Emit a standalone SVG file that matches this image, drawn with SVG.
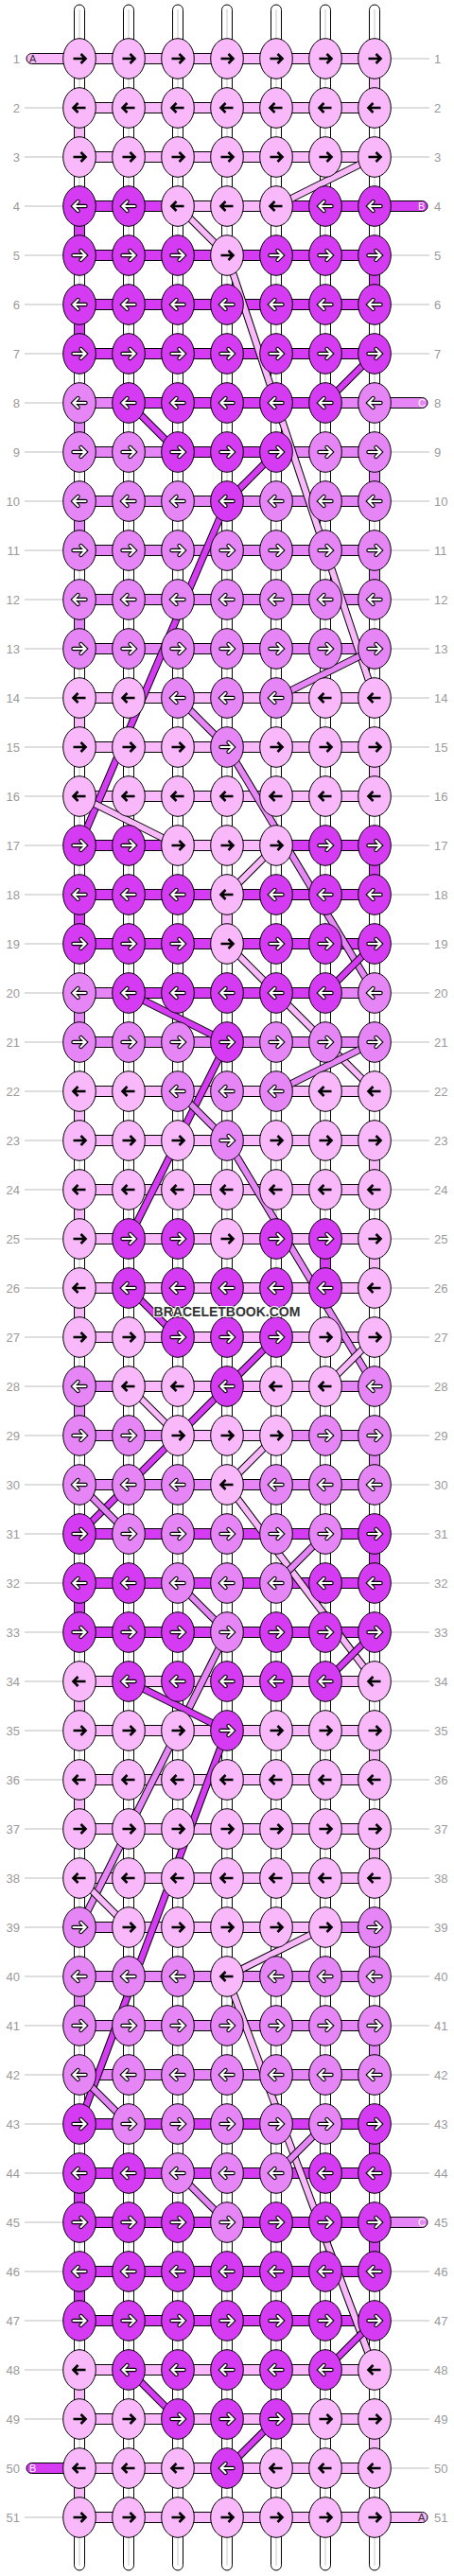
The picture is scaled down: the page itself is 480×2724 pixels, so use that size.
<svg xmlns="http://www.w3.org/2000/svg" xmlns:xlink="http://www.w3.org/1999/xlink" width="480" height="2724" viewBox="0 0 480 2724">
<style>
.L{fill:#F8B8FA}.M{fill:#E686F6}.D{fill:#D43BF2}
.o{stroke:#000;stroke-width:1}
.nf{stroke:none}
.lb{font-family:"Liberation Sans",Arial,sans-serif;font-size:13px;fill:#9A9A9A}
.tl{font-family:"Liberation Sans",Arial,sans-serif;font-size:11px}
.gl{stroke:#BDBDBD;stroke-width:1;fill:none}
.dk{stroke:#000;stroke-width:8;fill:none}
.dL{stroke:#F8B8FA;stroke-width:6;fill:none}
.dM{stroke:#E686F6;stroke-width:6;fill:none}
.dD{stroke:#D43BF2;stroke-width:6;fill:none}
.wm{font-family:"Liberation Sans",Arial,sans-serif;font-size:14px;font-weight:bold;fill:#333;stroke:#fff;stroke-width:2;paint-order:stroke}
</style>
<defs>
<path id="ar" d="M-6.5,0H6M1.5,-5L6.5,0L1.5,5" fill="none"/>
<path id="al" d="M6.5,0H-6M-1.5,-5L-6.5,0L-1.5,5" fill="none"/>
<g id="LR"><ellipse rx="17.3" ry="21.3" fill="#F8B8FA" stroke="#000"/><use href="#ar" stroke="#000" stroke-width="2.6"/></g>
<g id="LL"><ellipse rx="17.3" ry="21.3" fill="#F8B8FA" stroke="#000"/><use href="#al" stroke="#000" stroke-width="2.6"/></g>
<g id="MR"><ellipse rx="17.3" ry="21.3" fill="#E686F6" stroke="#000"/><use href="#ar" stroke="#000" stroke-width="4.4" stroke-linecap="round"/><use href="#ar" stroke="#fff" stroke-width="2.2" stroke-linecap="round"/></g>
<g id="ML"><ellipse rx="17.3" ry="21.3" fill="#E686F6" stroke="#000"/><use href="#al" stroke="#000" stroke-width="4.4" stroke-linecap="round"/><use href="#al" stroke="#fff" stroke-width="2.2" stroke-linecap="round"/></g>
<g id="DR"><ellipse rx="17.3" ry="21.3" fill="#D43BF2" stroke="#000"/><use href="#ar" stroke="#000" stroke-width="4.4" stroke-linecap="round"/><use href="#ar" stroke="#fff" stroke-width="2.2" stroke-linecap="round"/></g>
<g id="DL"><ellipse rx="17.3" ry="21.3" fill="#D43BF2" stroke="#000"/><use href="#al" stroke="#000" stroke-width="4.4" stroke-linecap="round"/><use href="#al" stroke="#fff" stroke-width="2.2" stroke-linecap="round"/></g>
</defs>
<rect width="480" height="2724" fill="#fff"/>
<g id="labels">
<path class="gl" d="M26,114H67M26,166H67M26,218H67M26,270H67M26,322H67M26,374H67M26,426H67M26,478H67M26,530H67M26,582H67M26,634H67M26,686H67M26,738H67M26,790H67M26,842H67M26,894H67M26,946H67M26,998H67M26,1050H67M26,1102H67M26,1154H67M26,1206H67M26,1258H67M26,1310H67M26,1362H67M26,1414H67M26,1466H67M26,1518H67M26,1570H67M26,1622H67M26,1674H67M26,1726H67M26,1778H67M26,1830H67M26,1882H67M26,1934H67M26,1986H67M26,2038H67M26,2090H67M26,2142H67M26,2194H67M26,2246H67M26,2298H67M26,2350H67M26,2402H67M26,2454H67M26,2506H67M26,2558H67M26,2662H67"/>
<path class="gl" d="M413,62H454M413,114H454M413,166H454M413,270H454M413,322H454M413,374H454M413,478H454M413,530H454M413,582H454M413,634H454M413,686H454M413,738H454M413,790H454M413,842H454M413,894H454M413,946H454M413,998H454M413,1050H454M413,1102H454M413,1154H454M413,1206H454M413,1258H454M413,1310H454M413,1362H454M413,1414H454M413,1466H454M413,1518H454M413,1570H454M413,1622H454M413,1674H454M413,1726H454M413,1778H454M413,1830H454M413,1882H454M413,1934H454M413,1986H454M413,2038H454M413,2090H454M413,2142H454M413,2194H454M413,2246H454M413,2298H454M413,2402H454M413,2454H454M413,2506H454M413,2558H454M413,2610H454"/>
<g class="lb" text-anchor="end">
<text x="21" y="66.5">1</text><text x="21" y="118.5">2</text><text x="21" y="170.5">3</text><text x="21" y="222.5">4</text><text x="21" y="274.5">5</text><text x="21" y="326.5">6</text><text x="21" y="378.5">7</text><text x="21" y="430.5">8</text><text x="21" y="482.5">9</text><text x="21" y="534.5">10</text>
<text x="21" y="586.5">11</text><text x="21" y="638.5">12</text><text x="21" y="690.5">13</text><text x="21" y="742.5">14</text><text x="21" y="794.5">15</text><text x="21" y="846.5">16</text><text x="21" y="898.5">17</text><text x="21" y="950.5">18</text><text x="21" y="1002.5">19</text><text x="21" y="1054.5">20</text>
<text x="21" y="1106.5">21</text><text x="21" y="1158.5">22</text><text x="21" y="1210.5">23</text><text x="21" y="1262.5">24</text><text x="21" y="1314.5">25</text><text x="21" y="1366.5">26</text><text x="21" y="1418.5">27</text><text x="21" y="1470.5">28</text><text x="21" y="1522.5">29</text><text x="21" y="1574.5">30</text>
<text x="21" y="1626.5">31</text><text x="21" y="1678.5">32</text><text x="21" y="1730.5">33</text><text x="21" y="1782.5">34</text><text x="21" y="1834.5">35</text><text x="21" y="1886.5">36</text><text x="21" y="1938.5">37</text><text x="21" y="1990.5">38</text><text x="21" y="2042.5">39</text><text x="21" y="2094.5">40</text>
<text x="21" y="2146.5">41</text><text x="21" y="2198.5">42</text><text x="21" y="2250.5">43</text><text x="21" y="2302.5">44</text><text x="21" y="2354.5">45</text><text x="21" y="2406.5">46</text><text x="21" y="2458.5">47</text><text x="21" y="2510.5">48</text><text x="21" y="2562.5">49</text><text x="21" y="2614.5">50</text>
<text x="21" y="2666.5">51</text>
</g>
<g class="lb">
<text x="459" y="66.5">1</text><text x="459" y="118.5">2</text><text x="459" y="170.5">3</text><text x="459" y="222.5">4</text><text x="459" y="274.5">5</text><text x="459" y="326.5">6</text><text x="459" y="378.5">7</text><text x="459" y="430.5">8</text><text x="459" y="482.5">9</text><text x="459" y="534.5">10</text>
<text x="459" y="586.5">11</text><text x="459" y="638.5">12</text><text x="459" y="690.5">13</text><text x="459" y="742.5">14</text><text x="459" y="794.5">15</text><text x="459" y="846.5">16</text><text x="459" y="898.5">17</text><text x="459" y="950.5">18</text><text x="459" y="1002.5">19</text><text x="459" y="1054.5">20</text>
<text x="459" y="1106.5">21</text><text x="459" y="1158.5">22</text><text x="459" y="1210.5">23</text><text x="459" y="1262.5">24</text><text x="459" y="1314.5">25</text><text x="459" y="1366.5">26</text><text x="459" y="1418.5">27</text><text x="459" y="1470.5">28</text><text x="459" y="1522.5">29</text><text x="459" y="1574.5">30</text>
<text x="459" y="1626.5">31</text><text x="459" y="1678.5">32</text><text x="459" y="1730.5">33</text><text x="459" y="1782.5">34</text><text x="459" y="1834.5">35</text><text x="459" y="1886.5">36</text><text x="459" y="1938.5">37</text><text x="459" y="1990.5">38</text><text x="459" y="2042.5">39</text><text x="459" y="2094.5">40</text>
<text x="459" y="2146.5">41</text><text x="459" y="2198.5">42</text><text x="459" y="2250.5">43</text><text x="459" y="2302.5">44</text><text x="459" y="2354.5">45</text><text x="459" y="2406.5">46</text><text x="459" y="2458.5">47</text><text x="459" y="2510.5">48</text><text x="459" y="2562.5">49</text><text x="459" y="2614.5">50</text>
<text x="459" y="2666.5">51</text>
</g>
</g>
<g id="strands" fill="#fff" stroke="#000">
<rect x="78.5" y="5" width="11" height="2713" rx="5.5"/><rect x="130.5" y="5" width="11" height="2713" rx="5.5"/><rect x="182.5" y="5" width="11" height="2713" rx="5.5"/><rect x="234.5" y="5" width="11" height="2713" rx="5.5"/><rect x="286.5" y="5" width="11" height="2713" rx="5.5"/><rect x="338.5" y="5" width="11" height="2713" rx="5.5"/><rect x="390.5" y="5" width="11" height="2713" rx="5.5"/>
<path d="M84,10V2713M136,10V2713M188,10V2713M240,10V2713M292,10V2713M344,10V2713M396,10V2713" stroke="#C8C8C8" fill="none"/>
</g>
<g id="tails" class="o">
<rect x="28" y="56.5" width="60" height="11" rx="5.5" class="L"/>
<rect x="392" y="212.5" width="60" height="11" rx="5.5" class="D"/>
<rect x="392" y="420.5" width="60" height="11" rx="5.5" class="M"/>
<rect x="392" y="2344.5" width="60" height="11" rx="5.5" class="M"/>
<rect x="28" y="2604.5" width="60" height="11" rx="5.5" class="D"/>
<rect x="392" y="2656.5" width="60" height="11" rx="5.5" class="L"/>
</g>
<g class="tl">
<text x="31" y="66" fill="#333">A</text>
<text x="442" y="222" fill="#fff">B</text>
<text x="442" y="430" fill="#fff">C</text>
<text x="442" y="2354" fill="#fff">C</text>
<text x="31" y="2614" fill="#fff">B</text>
<text x="442" y="2666" fill="#333">A</text>
</g>
<g id="bars" class="o">
<rect x="84" y="56.5" width="312" height="11" class="L"/><rect x="84" y="108.5" width="312" height="11" class="L"/><rect x="84" y="160.5" width="312" height="11" class="L"/><rect x="84" y="212.5" width="312" height="11" class="D"/><rect x="84" y="264.5" width="312" height="11" class="D"/><rect x="84" y="316.5" width="312" height="11" class="D"/><rect x="84" y="368.5" width="312" height="11" class="D"/><rect x="84" y="420.5" width="312" height="11" class="D"/><rect x="84" y="472.5" width="312" height="11" class="M"/><rect x="84" y="524.5" width="312" height="11" class="M"/>
<rect x="84" y="576.5" width="312" height="11" class="M"/><rect x="84" y="628.5" width="312" height="11" class="M"/><rect x="84" y="680.5" width="312" height="11" class="M"/><rect x="84" y="732.5" width="312" height="11" class="L"/><rect x="84" y="784.5" width="312" height="11" class="L"/><rect x="84" y="836.5" width="312" height="11" class="L"/><rect x="84" y="888.5" width="312" height="11" class="D"/><rect x="84" y="940.5" width="312" height="11" class="D"/><rect x="84" y="992.5" width="312" height="11" class="D"/><rect x="84" y="1044.5" width="312" height="11" class="D"/>
<rect x="84" y="1096.5" width="312" height="11" class="M"/><rect x="84" y="1148.5" width="312" height="11" class="L"/><rect x="84" y="1200.5" width="312" height="11" class="L"/><rect x="84" y="1252.5" width="312" height="11" class="L"/><rect x="84" y="1304.5" width="312" height="11" class="L"/><rect x="84" y="1356.5" width="312" height="11" class="L"/><rect x="84" y="1408.5" width="312" height="11" class="L"/><rect x="84" y="1460.5" width="312" height="11" class="L"/><rect x="84" y="1512.5" width="312" height="11" class="M"/><rect x="84" y="1564.5" width="312" height="11" class="M"/>
<rect x="84" y="1616.5" width="312" height="11" class="D"/><rect x="84" y="1668.5" width="312" height="11" class="D"/><rect x="84" y="1720.5" width="312" height="11" class="D"/><rect x="84" y="1772.5" width="312" height="11" class="L"/><rect x="84" y="1824.5" width="312" height="11" class="L"/><rect x="84" y="1876.5" width="312" height="11" class="L"/><rect x="84" y="1928.5" width="312" height="11" class="L"/><rect x="84" y="1980.5" width="312" height="11" class="L"/><rect x="84" y="2032.5" width="312" height="11" class="L"/><rect x="84" y="2084.5" width="312" height="11" class="M"/>
<rect x="84" y="2136.5" width="312" height="11" class="M"/><rect x="84" y="2188.5" width="312" height="11" class="M"/><rect x="84" y="2240.5" width="312" height="11" class="D"/><rect x="84" y="2292.5" width="312" height="11" class="D"/><rect x="84" y="2344.5" width="312" height="11" class="D"/><rect x="84" y="2396.5" width="312" height="11" class="D"/><rect x="84" y="2448.5" width="312" height="11" class="D"/><rect x="84" y="2500.5" width="312" height="11" class="L"/><rect x="84" y="2552.5" width="312" height="11" class="L"/><rect x="84" y="2604.5" width="312" height="11" class="L"/>
<rect x="84" y="2656.5" width="312" height="11" class="L"/>
</g>
<g id="bar-parts">
<rect x="188" y="213" width="104" height="10" class="L"/>
<rect x="84" y="421" width="52" height="10" class="M"/><rect x="344" y="421" width="52" height="10" class="M"/>
<rect x="188" y="473" width="104" height="10" class="D"/>
<rect x="188" y="889" width="104" height="10" class="L"/>
<rect x="84" y="1045" width="52" height="10" class="M"/><rect x="344" y="1045" width="52" height="10" class="M"/>
<rect x="84" y="1461" width="52" height="10" class="M"/><rect x="344" y="1461" width="52" height="10" class="M"/>
<rect x="188" y="1513" width="104" height="10" class="L"/>
<rect x="84" y="2033" width="52" height="10" class="M"/><rect x="344" y="2033" width="52" height="10" class="M"/>
</g>
<g id="turns" class="o">
<rect x="390.5" y="80" width="11" height="16" class="L"/><rect x="78.5" y="132" width="11" height="16" class="L"/><rect x="78.5" y="236" width="11" height="16" class="D"/><rect x="390.5" y="288" width="11" height="16" class="D"/><rect x="78.5" y="340" width="11" height="16" class="D"/>
<rect x="78.5" y="444" width="11" height="16" class="M"/><rect x="390.5" y="496" width="11" height="16" class="M"/><rect x="78.5" y="548" width="11" height="16" class="M"/><rect x="390.5" y="600" width="11" height="16" class="M"/><rect x="78.5" y="652" width="11" height="16" class="M"/>
<rect x="78.5" y="756" width="11" height="16" class="L"/><rect x="390.5" y="808" width="11" height="16" class="L"/><rect x="390.5" y="912" width="11" height="16" class="D"/><rect x="78.5" y="964" width="11" height="16" class="D"/><rect x="234.5" y="964" width="11" height="16" class="L"/>
<rect x="78.5" y="1068" width="11" height="16" class="M"/><rect x="78.5" y="1172" width="11" height="16" class="L"/><rect x="390.5" y="1224" width="11" height="16" class="L"/><rect x="78.5" y="1276" width="11" height="16" class="L"/><rect x="390.5" y="1328" width="11" height="16" class="L"/><rect x="338.5" y="1328" width="11" height="16" class="D"/><rect x="78.5" y="1380" width="11" height="16" class="L"/>
<rect x="78.5" y="1484" width="11" height="16" class="M"/><rect x="390.5" y="1536" width="11" height="16" class="M"/><rect x="390.5" y="1640" width="11" height="16" class="D"/><rect x="78.5" y="1692" width="11" height="16" class="D"/>
<rect x="78.5" y="1796" width="11" height="16" class="L"/><rect x="390.5" y="1848" width="11" height="16" class="L"/><rect x="78.5" y="1900" width="11" height="16" class="L"/><rect x="390.5" y="1952" width="11" height="16" class="L"/>
<rect x="390.5" y="2056" width="11" height="16" class="M"/><rect x="78.5" y="2108" width="11" height="16" class="M"/><rect x="390.5" y="2160" width="11" height="16" class="M"/>
<rect x="390.5" y="2264" width="11" height="16" class="D"/><rect x="78.5" y="2316" width="11" height="16" class="D"/><rect x="390.5" y="2368" width="11" height="16" class="D"/><rect x="78.5" y="2420" width="11" height="16" class="D"/>
<rect x="78.5" y="2524" width="11" height="16" class="L"/><rect x="390.5" y="2576" width="11" height="16" class="L"/><rect x="78.5" y="2628" width="11" height="16" class="L"/>
</g>
<g id="connectors">
<path class="dk" d="M396,166L292,218"/><path class="dL" d="M396,166L292,218"/>
<path class="dk" d="M188,218L240,270"/><path class="dL" d="M188,218L240,270"/>
<path class="dk" d="M240,270L396,738"/><path class="dL" d="M240,270L396,738"/>
<path class="dk" d="M396,374L344,426"/><path class="dD" d="M396,374L344,426"/>
<path class="dk" d="M136,426L188,478"/><path class="dD" d="M136,426L188,478"/>
<path class="dk" d="M292,478L240,530"/><path class="dD" d="M292,478L240,530"/>
<path class="dk" d="M240,530L84,894"/><path class="dD" d="M240,530L84,894"/>
<path class="dk" d="M396,686L292,738"/><path class="dM" d="M396,686L292,738"/>
<path class="dk" d="M188,738L240,790"/><path class="dM" d="M188,738L240,790"/>
<path class="dk" d="M240,790L396,1050"/><path class="dM" d="M240,790L396,1050"/>
<path class="dk" d="M84,842L188,894"/><path class="dL" d="M84,842L188,894"/>
<path class="dk" d="M292,894L240,946"/><path class="dL" d="M292,894L240,946"/>
<path class="dk" d="M240,998L396,1154"/><path class="dL" d="M240,998L396,1154"/>
<path class="dk" d="M396,998L344,1050"/><path class="dD" d="M396,998L344,1050"/>
<path class="dk" d="M136,1050L240,1102"/><path class="dD" d="M136,1050L240,1102"/>
<path class="dk" d="M396,1102L292,1154"/><path class="dM" d="M396,1102L292,1154"/>
<path class="dk" d="M240,1102L136,1310"/><path class="dD" d="M240,1102L136,1310"/>
<path class="dk" d="M188,1154L240,1206"/><path class="dM" d="M188,1154L240,1206"/>
<path class="dk" d="M240,1206L396,1466"/><path class="dM" d="M240,1206L396,1466"/>
<path class="dk" d="M136,1362L188,1414"/><path class="dD" d="M136,1362L188,1414"/>
<path class="dk" d="M292,1414L84,1622"/><path class="dD" d="M292,1414L84,1622"/>
<path class="dk" d="M396,1414L344,1466"/><path class="dL" d="M396,1414L344,1466"/>
<path class="dk" d="M136,1466L188,1518"/><path class="dL" d="M136,1466L188,1518"/>
<path class="dk" d="M292,1518L240,1570"/><path class="dL" d="M292,1518L240,1570"/>
<path class="dk" d="M84,1570L136,1622"/><path class="dM" d="M84,1570L136,1622"/>
<path class="dk" d="M240,1570L396,1778"/><path class="dL" d="M240,1570L396,1778"/>
<path class="dk" d="M344,1622L292,1674"/><path class="dM" d="M344,1622L292,1674"/>
<path class="dk" d="M188,1674L240,1726"/><path class="dM" d="M188,1674L240,1726"/>
<path class="dk" d="M396,1726L344,1778"/><path class="dD" d="M396,1726L344,1778"/>
<path class="dk" d="M240,1726L84,2038"/><path class="dM" d="M240,1726L84,2038"/>
<path class="dk" d="M136,1778L240,1830"/><path class="dD" d="M136,1778L240,1830"/>
<path class="dk" d="M240,1830L84,2246"/><path class="dD" d="M240,1830L84,2246"/>
<path class="dk" d="M84,1986L136,2038"/><path class="dL" d="M84,1986L136,2038"/>
<path class="dk" d="M344,2038L240,2090"/><path class="dL" d="M344,2038L240,2090"/>
<path class="dk" d="M240,2090L396,2506"/><path class="dL" d="M240,2090L396,2506"/>
<path class="dk" d="M84,2194L136,2246"/><path class="dM" d="M84,2194L136,2246"/>
<path class="dk" d="M344,2246L292,2298"/><path class="dM" d="M344,2246L292,2298"/>
<path class="dk" d="M188,2298L240,2350"/><path class="dM" d="M188,2298L240,2350"/>
<path class="dk" d="M396,2454L344,2506"/><path class="dD" d="M396,2454L344,2506"/>
<path class="dk" d="M136,2506L188,2558"/><path class="dD" d="M136,2506L188,2558"/>
<path class="dk" d="M292,2558L240,2610"/><path class="dD" d="M292,2558L240,2610"/>
</g>
<g id="r1" transform="translate(0,62)"><use id="k1-1" href="#LR" x="84"/><use id="k1-2" href="#LR" x="136"/><use id="k1-3" href="#LR" x="188"/><use id="k1-4" href="#LR" x="240"/><use id="k1-5" href="#LR" x="292"/><use id="k1-6" href="#LR" x="344"/><use id="k1-7" href="#LR" x="396"/></g>
<g id="r2" transform="translate(0,114)"><use id="k2-1" href="#LL" x="84"/><use id="k2-2" href="#LL" x="136"/><use id="k2-3" href="#LL" x="188"/><use id="k2-4" href="#LL" x="240"/><use id="k2-5" href="#LL" x="292"/><use id="k2-6" href="#LL" x="344"/><use id="k2-7" href="#LL" x="396"/></g>
<g id="r3" transform="translate(0,166)"><use id="k3-1" href="#LR" x="84"/><use id="k3-2" href="#LR" x="136"/><use id="k3-3" href="#LR" x="188"/><use id="k3-4" href="#LR" x="240"/><use id="k3-5" href="#LR" x="292"/><use id="k3-6" href="#LR" x="344"/><use id="k3-7" href="#LR" x="396"/></g>
<g id="r4" transform="translate(0,218)"><use id="k4-1" href="#DL" x="84"/><use id="k4-2" href="#DL" x="136"/><use id="k4-3" href="#LL" x="188"/><use id="k4-4" href="#LL" x="240"/><use id="k4-5" href="#LL" x="292"/><use id="k4-6" href="#DL" x="344"/><use id="k4-7" href="#DL" x="396"/></g>
<g id="r5" transform="translate(0,270)"><use id="k5-1" href="#DR" x="84"/><use id="k5-2" href="#DR" x="136"/><use id="k5-3" href="#DR" x="188"/><use id="k5-4" href="#LR" x="240"/><use id="k5-5" href="#DR" x="292"/><use id="k5-6" href="#DR" x="344"/><use id="k5-7" href="#DR" x="396"/></g>
<g id="r6" transform="translate(0,322)"><use id="k6-1" href="#DL" x="84"/><use id="k6-2" href="#DL" x="136"/><use id="k6-3" href="#DL" x="188"/><use id="k6-4" href="#DL" x="240"/><use id="k6-5" href="#DL" x="292"/><use id="k6-6" href="#DL" x="344"/><use id="k6-7" href="#DL" x="396"/></g>
<g id="r7" transform="translate(0,374)"><use id="k7-1" href="#DR" x="84"/><use id="k7-2" href="#DR" x="136"/><use id="k7-3" href="#DR" x="188"/><use id="k7-4" href="#DR" x="240"/><use id="k7-5" href="#DR" x="292"/><use id="k7-6" href="#DR" x="344"/><use id="k7-7" href="#DR" x="396"/></g>
<g id="r8" transform="translate(0,426)"><use id="k8-1" href="#ML" x="84"/><use id="k8-2" href="#DL" x="136"/><use id="k8-3" href="#DL" x="188"/><use id="k8-4" href="#DL" x="240"/><use id="k8-5" href="#DL" x="292"/><use id="k8-6" href="#DL" x="344"/><use id="k8-7" href="#ML" x="396"/></g>
<g id="r9" transform="translate(0,478)"><use id="k9-1" href="#MR" x="84"/><use id="k9-2" href="#MR" x="136"/><use id="k9-3" href="#DR" x="188"/><use id="k9-4" href="#DR" x="240"/><use id="k9-5" href="#DR" x="292"/><use id="k9-6" href="#MR" x="344"/><use id="k9-7" href="#MR" x="396"/></g>
<g id="r10" transform="translate(0,530)"><use id="k10-1" href="#ML" x="84"/><use id="k10-2" href="#ML" x="136"/><use id="k10-3" href="#ML" x="188"/><use id="k10-4" href="#DL" x="240"/><use id="k10-5" href="#ML" x="292"/><use id="k10-6" href="#ML" x="344"/><use id="k10-7" href="#ML" x="396"/></g>
<g id="r11" transform="translate(0,582)"><use id="k11-1" href="#MR" x="84"/><use id="k11-2" href="#MR" x="136"/><use id="k11-3" href="#MR" x="188"/><use id="k11-4" href="#MR" x="240"/><use id="k11-5" href="#MR" x="292"/><use id="k11-6" href="#MR" x="344"/><use id="k11-7" href="#MR" x="396"/></g>
<g id="r12" transform="translate(0,634)"><use id="k12-1" href="#ML" x="84"/><use id="k12-2" href="#ML" x="136"/><use id="k12-3" href="#ML" x="188"/><use id="k12-4" href="#ML" x="240"/><use id="k12-5" href="#ML" x="292"/><use id="k12-6" href="#ML" x="344"/><use id="k12-7" href="#ML" x="396"/></g>
<g id="r13" transform="translate(0,686)"><use id="k13-1" href="#MR" x="84"/><use id="k13-2" href="#MR" x="136"/><use id="k13-3" href="#MR" x="188"/><use id="k13-4" href="#MR" x="240"/><use id="k13-5" href="#MR" x="292"/><use id="k13-6" href="#MR" x="344"/><use id="k13-7" href="#MR" x="396"/></g>
<g id="r14" transform="translate(0,738)"><use id="k14-1" href="#LL" x="84"/><use id="k14-2" href="#LL" x="136"/><use id="k14-3" href="#ML" x="188"/><use id="k14-4" href="#ML" x="240"/><use id="k14-5" href="#ML" x="292"/><use id="k14-6" href="#LL" x="344"/><use id="k14-7" href="#LL" x="396"/></g>
<g id="r15" transform="translate(0,790)"><use id="k15-1" href="#LR" x="84"/><use id="k15-2" href="#LR" x="136"/><use id="k15-3" href="#LR" x="188"/><use id="k15-4" href="#MR" x="240"/><use id="k15-5" href="#LR" x="292"/><use id="k15-6" href="#LR" x="344"/><use id="k15-7" href="#LR" x="396"/></g>
<g id="r16" transform="translate(0,842)"><use id="k16-1" href="#LL" x="84"/><use id="k16-2" href="#LL" x="136"/><use id="k16-3" href="#LL" x="188"/><use id="k16-4" href="#LL" x="240"/><use id="k16-5" href="#LL" x="292"/><use id="k16-6" href="#LL" x="344"/><use id="k16-7" href="#LL" x="396"/></g>
<g id="r17" transform="translate(0,894)"><use id="k17-1" href="#DR" x="84"/><use id="k17-2" href="#DR" x="136"/><use id="k17-3" href="#LR" x="188"/><use id="k17-4" href="#LR" x="240"/><use id="k17-5" href="#LR" x="292"/><use id="k17-6" href="#DR" x="344"/><use id="k17-7" href="#DR" x="396"/></g>
<g id="r18" transform="translate(0,946)"><use id="k18-1" href="#DL" x="84"/><use id="k18-2" href="#DL" x="136"/><use id="k18-3" href="#DL" x="188"/><use id="k18-4" href="#LL" x="240"/><use id="k18-5" href="#DL" x="292"/><use id="k18-6" href="#DL" x="344"/><use id="k18-7" href="#DL" x="396"/></g>
<g id="r19" transform="translate(0,998)"><use id="k19-1" href="#DR" x="84"/><use id="k19-2" href="#DR" x="136"/><use id="k19-3" href="#DR" x="188"/><use id="k19-4" href="#LR" x="240"/><use id="k19-5" href="#DR" x="292"/><use id="k19-6" href="#DR" x="344"/><use id="k19-7" href="#DR" x="396"/></g>
<g id="r20" transform="translate(0,1050)"><use id="k20-1" href="#ML" x="84"/><use id="k20-2" href="#DL" x="136"/><use id="k20-3" href="#DL" x="188"/><use id="k20-4" href="#DL" x="240"/><use id="k20-5" href="#DL" x="292"/><use id="k20-6" href="#DL" x="344"/><use id="k20-7" href="#ML" x="396"/></g>
<g id="r21" transform="translate(0,1102)"><use id="k21-1" href="#MR" x="84"/><use id="k21-2" href="#MR" x="136"/><use id="k21-3" href="#MR" x="188"/><use id="k21-4" href="#DR" x="240"/><use id="k21-5" href="#MR" x="292"/><use id="k21-6" href="#MR" x="344"/><use id="k21-7" href="#MR" x="396"/></g>
<g id="r22" transform="translate(0,1154)"><use id="k22-1" href="#LL" x="84"/><use id="k22-2" href="#LL" x="136"/><use id="k22-3" href="#ML" x="188"/><use id="k22-4" href="#ML" x="240"/><use id="k22-5" href="#ML" x="292"/><use id="k22-6" href="#LL" x="344"/><use id="k22-7" href="#LL" x="396"/></g>
<g id="r23" transform="translate(0,1206)"><use id="k23-1" href="#LR" x="84"/><use id="k23-2" href="#LR" x="136"/><use id="k23-3" href="#LR" x="188"/><use id="k23-4" href="#MR" x="240"/><use id="k23-5" href="#LR" x="292"/><use id="k23-6" href="#LR" x="344"/><use id="k23-7" href="#LR" x="396"/></g>
<g id="r24" transform="translate(0,1258)"><use id="k24-1" href="#LL" x="84"/><use id="k24-2" href="#LL" x="136"/><use id="k24-3" href="#LL" x="188"/><use id="k24-4" href="#LL" x="240"/><use id="k24-5" href="#LL" x="292"/><use id="k24-6" href="#LL" x="344"/><use id="k24-7" href="#LL" x="396"/></g>
<g id="r25" transform="translate(0,1310)"><use id="k25-1" href="#LR" x="84"/><use id="k25-2" href="#DR" x="136"/><use id="k25-3" href="#DR" x="188"/><use id="k25-4" href="#LR" x="240"/><use id="k25-5" href="#DR" x="292"/><use id="k25-6" href="#DR" x="344"/><use id="k25-7" href="#LR" x="396"/></g>
<g id="r26" transform="translate(0,1362)"><use id="k26-1" href="#LL" x="84"/><use id="k26-2" href="#DL" x="136"/><use id="k26-3" href="#DL" x="188"/><use id="k26-4" href="#DL" x="240"/><use id="k26-5" href="#DL" x="292"/><use id="k26-6" href="#DL" x="344"/><use id="k26-7" href="#LL" x="396"/></g>
<g id="r27" transform="translate(0,1414)"><use id="k27-1" href="#LR" x="84"/><use id="k27-2" href="#LR" x="136"/><use id="k27-3" href="#DR" x="188"/><use id="k27-4" href="#DR" x="240"/><use id="k27-5" href="#DR" x="292"/><use id="k27-6" href="#LR" x="344"/><use id="k27-7" href="#LR" x="396"/></g>
<g id="r28" transform="translate(0,1466)"><use id="k28-1" href="#ML" x="84"/><use id="k28-2" href="#LL" x="136"/><use id="k28-3" href="#LL" x="188"/><use id="k28-4" href="#DL" x="240"/><use id="k28-5" href="#LL" x="292"/><use id="k28-6" href="#LL" x="344"/><use id="k28-7" href="#ML" x="396"/></g>
<g id="r29" transform="translate(0,1518)"><use id="k29-1" href="#MR" x="84"/><use id="k29-2" href="#MR" x="136"/><use id="k29-3" href="#LR" x="188"/><use id="k29-4" href="#LR" x="240"/><use id="k29-5" href="#LR" x="292"/><use id="k29-6" href="#MR" x="344"/><use id="k29-7" href="#MR" x="396"/></g>
<g id="r30" transform="translate(0,1570)"><use id="k30-1" href="#ML" x="84"/><use id="k30-2" href="#ML" x="136"/><use id="k30-3" href="#ML" x="188"/><use id="k30-4" href="#LL" x="240"/><use id="k30-5" href="#ML" x="292"/><use id="k30-6" href="#ML" x="344"/><use id="k30-7" href="#ML" x="396"/></g>
<g id="r31" transform="translate(0,1622)"><use id="k31-1" href="#DR" x="84"/><use id="k31-2" href="#MR" x="136"/><use id="k31-3" href="#MR" x="188"/><use id="k31-4" href="#MR" x="240"/><use id="k31-5" href="#MR" x="292"/><use id="k31-6" href="#MR" x="344"/><use id="k31-7" href="#DR" x="396"/></g>
<g id="r32" transform="translate(0,1674)"><use id="k32-1" href="#DL" x="84"/><use id="k32-2" href="#DL" x="136"/><use id="k32-3" href="#ML" x="188"/><use id="k32-4" href="#ML" x="240"/><use id="k32-5" href="#ML" x="292"/><use id="k32-6" href="#DL" x="344"/><use id="k32-7" href="#DL" x="396"/></g>
<g id="r33" transform="translate(0,1726)"><use id="k33-1" href="#DR" x="84"/><use id="k33-2" href="#DR" x="136"/><use id="k33-3" href="#DR" x="188"/><use id="k33-4" href="#MR" x="240"/><use id="k33-5" href="#DR" x="292"/><use id="k33-6" href="#DR" x="344"/><use id="k33-7" href="#DR" x="396"/></g>
<g id="r34" transform="translate(0,1778)"><use id="k34-1" href="#LL" x="84"/><use id="k34-2" href="#DL" x="136"/><use id="k34-3" href="#DL" x="188"/><use id="k34-4" href="#DL" x="240"/><use id="k34-5" href="#DL" x="292"/><use id="k34-6" href="#DL" x="344"/><use id="k34-7" href="#LL" x="396"/></g>
<g id="r35" transform="translate(0,1830)"><use id="k35-1" href="#LR" x="84"/><use id="k35-2" href="#LR" x="136"/><use id="k35-3" href="#LR" x="188"/><use id="k35-4" href="#DR" x="240"/><use id="k35-5" href="#LR" x="292"/><use id="k35-6" href="#LR" x="344"/><use id="k35-7" href="#LR" x="396"/></g>
<g id="r36" transform="translate(0,1882)"><use id="k36-1" href="#LL" x="84"/><use id="k36-2" href="#LL" x="136"/><use id="k36-3" href="#LL" x="188"/><use id="k36-4" href="#LL" x="240"/><use id="k36-5" href="#LL" x="292"/><use id="k36-6" href="#LL" x="344"/><use id="k36-7" href="#LL" x="396"/></g>
<g id="r37" transform="translate(0,1934)"><use id="k37-1" href="#LR" x="84"/><use id="k37-2" href="#LR" x="136"/><use id="k37-3" href="#LR" x="188"/><use id="k37-4" href="#LR" x="240"/><use id="k37-5" href="#LR" x="292"/><use id="k37-6" href="#LR" x="344"/><use id="k37-7" href="#LR" x="396"/></g>
<g id="r38" transform="translate(0,1986)"><use id="k38-1" href="#LL" x="84"/><use id="k38-2" href="#LL" x="136"/><use id="k38-3" href="#LL" x="188"/><use id="k38-4" href="#LL" x="240"/><use id="k38-5" href="#LL" x="292"/><use id="k38-6" href="#LL" x="344"/><use id="k38-7" href="#LL" x="396"/></g>
<g id="r39" transform="translate(0,2038)"><use id="k39-1" href="#MR" x="84"/><use id="k39-2" href="#LR" x="136"/><use id="k39-3" href="#LR" x="188"/><use id="k39-4" href="#LR" x="240"/><use id="k39-5" href="#LR" x="292"/><use id="k39-6" href="#LR" x="344"/><use id="k39-7" href="#MR" x="396"/></g>
<g id="r40" transform="translate(0,2090)"><use id="k40-1" href="#ML" x="84"/><use id="k40-2" href="#ML" x="136"/><use id="k40-3" href="#ML" x="188"/><use id="k40-4" href="#LL" x="240"/><use id="k40-5" href="#ML" x="292"/><use id="k40-6" href="#ML" x="344"/><use id="k40-7" href="#ML" x="396"/></g>
<g id="r41" transform="translate(0,2142)"><use id="k41-1" href="#MR" x="84"/><use id="k41-2" href="#MR" x="136"/><use id="k41-3" href="#MR" x="188"/><use id="k41-4" href="#MR" x="240"/><use id="k41-5" href="#MR" x="292"/><use id="k41-6" href="#MR" x="344"/><use id="k41-7" href="#MR" x="396"/></g>
<g id="r42" transform="translate(0,2194)"><use id="k42-1" href="#ML" x="84"/><use id="k42-2" href="#ML" x="136"/><use id="k42-3" href="#ML" x="188"/><use id="k42-4" href="#ML" x="240"/><use id="k42-5" href="#ML" x="292"/><use id="k42-6" href="#ML" x="344"/><use id="k42-7" href="#ML" x="396"/></g>
<g id="r43" transform="translate(0,2246)"><use id="k43-1" href="#DR" x="84"/><use id="k43-2" href="#MR" x="136"/><use id="k43-3" href="#MR" x="188"/><use id="k43-4" href="#MR" x="240"/><use id="k43-5" href="#MR" x="292"/><use id="k43-6" href="#MR" x="344"/><use id="k43-7" href="#DR" x="396"/></g>
<g id="r44" transform="translate(0,2298)"><use id="k44-1" href="#DL" x="84"/><use id="k44-2" href="#DL" x="136"/><use id="k44-3" href="#ML" x="188"/><use id="k44-4" href="#ML" x="240"/><use id="k44-5" href="#ML" x="292"/><use id="k44-6" href="#DL" x="344"/><use id="k44-7" href="#DL" x="396"/></g>
<g id="r45" transform="translate(0,2350)"><use id="k45-1" href="#DR" x="84"/><use id="k45-2" href="#DR" x="136"/><use id="k45-3" href="#DR" x="188"/><use id="k45-4" href="#MR" x="240"/><use id="k45-5" href="#DR" x="292"/><use id="k45-6" href="#DR" x="344"/><use id="k45-7" href="#DR" x="396"/></g>
<g id="r46" transform="translate(0,2402)"><use id="k46-1" href="#DL" x="84"/><use id="k46-2" href="#DL" x="136"/><use id="k46-3" href="#DL" x="188"/><use id="k46-4" href="#DL" x="240"/><use id="k46-5" href="#DL" x="292"/><use id="k46-6" href="#DL" x="344"/><use id="k46-7" href="#DL" x="396"/></g>
<g id="r47" transform="translate(0,2454)"><use id="k47-1" href="#DR" x="84"/><use id="k47-2" href="#DR" x="136"/><use id="k47-3" href="#DR" x="188"/><use id="k47-4" href="#DR" x="240"/><use id="k47-5" href="#DR" x="292"/><use id="k47-6" href="#DR" x="344"/><use id="k47-7" href="#DR" x="396"/></g>
<g id="r48" transform="translate(0,2506)"><use id="k48-1" href="#LL" x="84"/><use id="k48-2" href="#DL" x="136"/><use id="k48-3" href="#DL" x="188"/><use id="k48-4" href="#DL" x="240"/><use id="k48-5" href="#DL" x="292"/><use id="k48-6" href="#DL" x="344"/><use id="k48-7" href="#LL" x="396"/></g>
<g id="r49" transform="translate(0,2558)"><use id="k49-1" href="#LR" x="84"/><use id="k49-2" href="#LR" x="136"/><use id="k49-3" href="#DR" x="188"/><use id="k49-4" href="#DR" x="240"/><use id="k49-5" href="#DR" x="292"/><use id="k49-6" href="#LR" x="344"/><use id="k49-7" href="#LR" x="396"/></g>
<g id="r50" transform="translate(0,2610)"><use id="k50-1" href="#LL" x="84"/><use id="k50-2" href="#LL" x="136"/><use id="k50-3" href="#LL" x="188"/><use id="k50-4" href="#DL" x="240"/><use id="k50-5" href="#LL" x="292"/><use id="k50-6" href="#LL" x="344"/><use id="k50-7" href="#LL" x="396"/></g>
<g id="r51" transform="translate(0,2662)"><use id="k51-1" href="#LR" x="84"/><use id="k51-2" href="#LR" x="136"/><use id="k51-3" href="#LR" x="188"/><use id="k51-4" href="#LR" x="240"/><use id="k51-5" href="#LR" x="292"/><use id="k51-6" href="#LR" x="344"/><use id="k51-7" href="#LR" x="396"/></g>
<text class="wm" x="240" y="1392" text-anchor="middle">BRACELETBOOK.COM</text>
</svg>
